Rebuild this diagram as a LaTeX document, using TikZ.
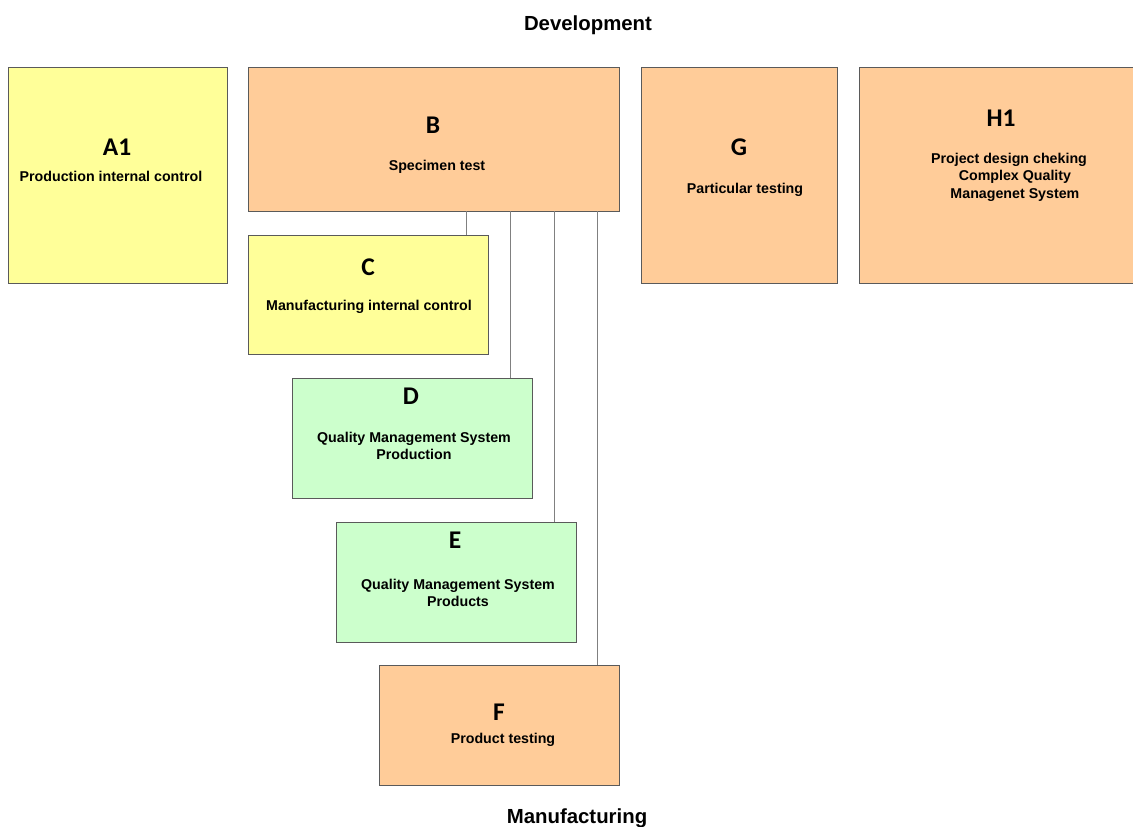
\documentclass[tikz,border=0pt]{standalone}
\usepackage{fontspec}
\setmainfont{Liberation Sans}
\newfontfamily\letterfont{Carlito}
\usetikzlibrary{positioning,calc}

\definecolor{ctrlyellow}{HTML}{FFFF99}
\definecolor{testorange}{HTML}{FFCC99}
\definecolor{qmsgreen}{HTML}{CCFFCC}
\definecolor{boxline}{HTML}{5A5A5A}
\definecolor{linkgray}{HTML}{808080}

\tikzset{
  module/.style={draw=boxline, line width=0.5pt, inner sep=0pt, rectangle},
  yellowbox/.style={module, fill=ctrlyellow},
  orangebox/.style={module, fill=testorange},
  greenbox/.style={module, fill=qmsgreen},
  letter/.style={font=\letterfont\bfseries\fontsize{14.5}{16}\selectfont, inner sep=0pt},
  caption/.style={font=\bfseries\fontsize{8.1}{10}\selectfont, align=center, inner sep=0pt},
  heading/.style={font=\bfseries\fontsize{11.6}{14}\selectfont, inner sep=0pt},
  link/.style={draw=linkgray, line width=0.6pt}
}

\begin{document}
\begin{tikzpicture}[x=0.02cm, y=-0.02cm]
 	\useasboundingbox (0,0) rectangle (1133,826);

 	\node[heading] (dev) at (588,25) {Development};
 	\node[heading] (man) at (577,818) {Manufacturing};

 	% modules
 	\node[yellowbox, minimum width=4.38cm, minimum height=4.32cm] (A1) at (117.5,175) {};
 	\node[letter] at (117,147) {A1};
 	\node[caption] at (111,176) {Production internal control};

 	\node[orangebox, minimum width=7.42cm, minimum height=2.88cm] (B) at (433.5,139) {};
 	\node[letter] at (433,125) {B};
 	\node[caption] at (437,167) {Specimen test};

 	\node[orangebox, minimum width=3.92cm, minimum height=4.32cm] (G) at (739,175) {};
 	\node[letter] at (739,147) {G};
 	\node[caption] at (745,190) {Particular testing};

 	\node[orangebox, minimum width=5.64cm, minimum height=4.32cm] (H1) at (1000,175) {};
 	\node[letter] at (1001,118) {H1};
 	\node[caption] at (1009,177) {Project design cheking\\ \ \ \ Complex Quality\\ \ \ \ Managenet System};

 	\node[yellowbox, minimum width=4.8cm, minimum height=2.38cm] (C) at (368,294.5) {};
 	\node[letter] at (368,267) {C};
 	\node[caption] at (369,307) {Manufacturing internal control};

 	\node[greenbox, minimum width=4.8cm, minimum height=2.4cm] (D) at (412,438) {};
 	\node[letter] at (411,396) {D};
 	\node[caption] at (414,446) {Quality Management System\\Production};

 	\node[greenbox, minimum width=4.8cm, minimum height=2.4cm] (E) at (456,582) {};
 	\node[letter] at (455,540) {E};
 	\node[caption] at (458,593) {Quality Management System\\Products};

 	\node[orangebox, minimum width=4.8cm, minimum height=2.4cm] (F) at (499,725) {};
 	\node[letter] at (499,712) {F};
 	\node[caption] at (503,740) {Product testing};

 	% links from B
 	\foreach \m in {C,D,E,F}
 	  \draw[link] ($(\m.north east)+(-22,0)$) coordinate (t\m) -- (t\m |- B.south);
\end{tikzpicture}
\end{document}
